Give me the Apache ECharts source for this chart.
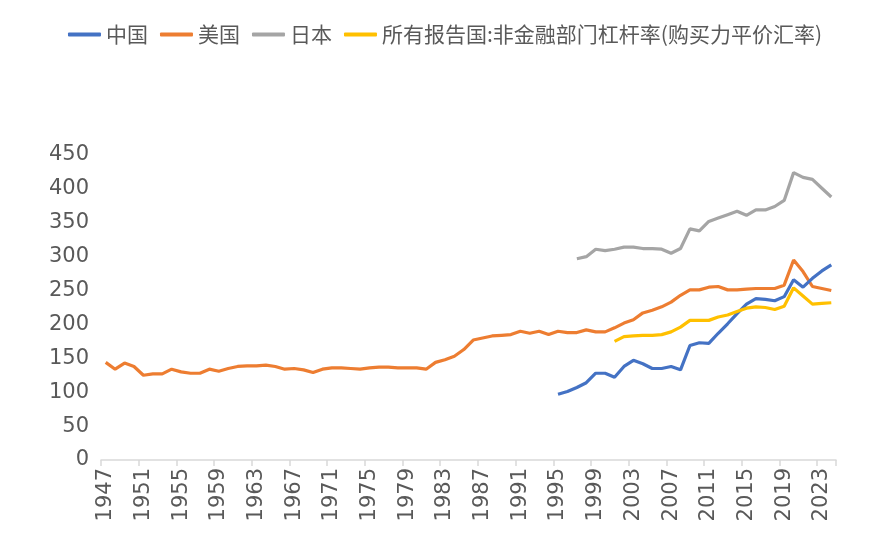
<!DOCTYPE html>
<html>
<head>
<meta charset="utf-8">
<script src="https://cdn.jsdelivr.net/npm/echarts@6/dist/echarts.min.js"></script>
<style>
html,body{margin:0;padding:0;background:#fff;}
#chart{width:890px;height:544px;}
</style>
</head>
<body>
<div id="chart"></div>
<script>
var years = [];
for (var y = 1947; y <= 2024; y++) years.push(String(y));

var seriesNames = ['中国', '美国', '日本', '所有报告国:非金融部门杠杆率(购买力平价汇率)'];

// 1947-2024
var usa = [144,134,143,138,125,127,127,134,130,128,
           128,134,131,135,138,139,139,140,138,134,
           135,133,129,134,136,136,135,134,136,137,
           137,136,136,136,134,144,148,153,163,177,
           180,183,184,185,190,187,190,185,190,188,
           188,192,189,189,195,202,207,217,221,226,
           233,243,251,251,255,256,251,251,252,253,
           253,253,258,295,278,256,253,250];
// 1995-2024
var chinaFrom1995 = [97,101,107,114,128,128,122,138,147,142,
                     135,135,138,133,169,173,172,187,201,216,
                     230,238,237,235,241,266,255,268,279,288];
// 1997-2024
var japanFrom1997 = [297,300,311,309,311,314,314,312,312,311,
                     305,312,341,338,352,357,362,367,361,369,
                     369,374,383,424,417,414,401,388];
// 2001-2024
var allFrom2001 = [175,182,183,184,184,185,189,196,206,206,
                   206,211,214,219,224,226,225,222,227,254,
                   242,230,231,232];

function pad(startYear, arr) {
  var out = [];
  for (var i = 0; i < years.length; i++) {
    var yr = 1947 + i;
    out.push(yr >= startYear ? arr[yr - startYear] : null);
  }
  return out;
}

var colors = ['#4472C4', '#ED7D31', '#A5A5A5', '#FFC000'];
var dataSets = [pad(1995, chinaFrom1995), usa, pad(1997, japanFrom1997), pad(2001, allFrom2001)];

var chart = echarts.init(document.getElementById('chart'));
chart.setOption({
  animation: false,
  color: colors,
  legend: {
    top: 19,
    left: 'center',
    icon: 'roundRect',
    itemWidth: 33,
    itemHeight: 4,
    itemGap: 12,
    textStyle: {fontFamily: 'Noto Sans CJK SC', fontSize: 21, color: '#595959'},
    data: seriesNames
  },
  grid: {left: 101, right: 54, top: 155, bottom: 84, containLabel: false},
  xAxis: {
    type: 'category',
    data: years,
    boundaryGap: true,
    axisLine: {lineStyle: {color: '#D9D9D9', width: 1.5}},
    axisTick: {show: true, interval: 3, length: 6, lineStyle: {color: '#D9D9D9', width: 1.5}},
    axisLabel: {interval: 3, rotate: 90, margin: 8, fontFamily: 'DejaVu Sans', fontSize: 21, color: '#595959'},
    splitLine: {show: false}
  },
  yAxis: {
    type: 'value',
    min: 0,
    max: 450,
    interval: 50,
    axisLine: {show: false},
    axisTick: {show: false},
    splitLine: {show: false},
    axisLabel: {margin: 12, fontFamily: 'DejaVu Sans', fontSize: 21, color: '#595959'}
  },
  series: seriesNames.map(function (n, i) {
    return {
      name: n,
      type: 'line',
      data: dataSets[i],
      symbol: 'none',
      connectNulls: false,
      lineStyle: {width: 3.2, color: colors[i]},
      z: i === 1 ? 1 : 2
    };
  })
});
</script>
</body>
</html>
